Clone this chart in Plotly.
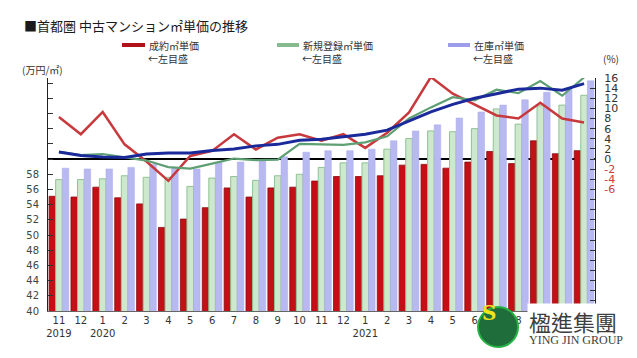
import plotly.graph_objects as go

months = ["2019-11", "2019-12", "2020-01", "2020-02", "2020-03", "2020-04", "2020-05",
          "2020-06", "2020-07", "2020-08", "2020-09", "2020-10", "2020-11", "2020-12",
          "2021-01", "2021-02", "2021-03", "2021-04", "2021-05", "2021-06", "2021-07",
          "2021-08", "2021-09", "2021-10", "2021-11"]
tick_labels = ["11<br>2019", "12", "1<br>2020", "2", "3", "4", "5", "6", "7", "8", "9", "10",
               "11", "12", "1<br>2021", "2", "3", "4", "5", "6", "7", "8", "9", "10", "11"]

# 万円/㎡ (left axis)
contract_price = [55.1, 55.0, 56.3, 54.9, 54.1, 51.0, 52.1, 53.6, 56.2, 55.0, 56.2, 56.3, 57.1,
                  57.7, 57.7, 57.8, 59.2, 59.3, 58.8, 59.6, 61.0, 59.4, 62.4, 60.7, 61.1]
new_listing_price = [57.3, 57.3, 57.4, 57.8, 57.6, 57.6, 56.4, 57.5, 57.7, 57.2, 57.8, 58.0, 58.9,
                     59.5, 59.5, 61.3, 62.7, 63.7, 63.6, 64.0, 66.6, 64.6, 67.0, 67.1, 68.4]
stock_price = [58.8, 58.7, 58.7, 58.9, 59.3, 58.8, 58.7, 59.6, 59.6, 59.8, 60.3, 60.9, 61.1,
               61.1, 61.3, 62.4, 63.7, 64.5, 65.4, 66.2, 67.1, 67.8, 68.8, 69.2, 70.3]

# 前年同月比 % (right axis)
contract_yoy = [8.3, 4.9, 9.3, 2.9, -0.5, -4.3, 0.6, 1.6, 4.9, 1.9, 4.2, 4.9, 3.6,
                4.9, 2.2, 5.2, 9.2, 16.2, 12.9, 10.8, 8.6, 8.0, 11.1, 8.0, 7.2]
new_listing_yoy = [1.4, 0.8, 1.0, 0.4, -0.3, -1.6, -1.9, -0.9, 0.1, -0.2, -0.1, 3.0, 2.9,
                   2.8, 3.3, 4.5, 8.0, 10.2, 12.2, 11.6, 13.7, 13.0, 15.4, 12.5, 16.1]
stock_yoy = [1.4, 0.7, 0.4, 0.3, 1.0, 1.2, 1.2, 1.7, 2.0, 2.6, 2.9, 3.7, 3.9,
             4.4, 4.9, 5.7, 7.5, 9.3, 10.8, 12.0, 12.9, 13.8, 14.0, 13.6, 14.9]

left_ticks = list(range(40, 71, 2))
right_ticks = list(range(-30, 17, 2))

JP = "Noto Sans CJK JP"

fig = go.Figure()
fig.add_trace(go.Bar(x=months, y=contract_price, name="成約㎡単価",
                     marker=dict(color="#c50f17", line=dict(color="#8c0a10", width=0.8))))
fig.add_trace(go.Bar(x=months, y=new_listing_price, name="新規登録㎡単価",
                     marker=dict(color="#cde8cd", line=dict(color="#8fc294", width=1))))
fig.add_trace(go.Bar(x=months, y=stock_price, name="在庫㎡単価",
                     marker=dict(color="#b9b9f1", line=dict(color="#a9a9ee", width=0.5))))

fig.add_trace(go.Scatter(x=months, y=contract_yoy, yaxis="y2", mode="lines",
                         line=dict(color="#c8393d", width=2.5)))
fig.add_trace(go.Scatter(x=months, y=new_listing_yoy, yaxis="y2", mode="lines",
                         line=dict(color="#5e9f74", width=2.2)))
fig.add_trace(go.Scatter(x=months, y=stock_yoy, yaxis="y2", mode="lines",
                         line=dict(color="#1b2a9b", width=3)))

# page body has an 8px margin; work in reference-pixel coordinates and offset
OFF = 8
W, H = 637 - OFF, 358 - OFF
L, R, T, B = 48, 595, 78, 311  # plot area in reference pixels


def px(X):
    return (X - L) / (R - L)


def py(Y):
    return (B - Y) / (B - T)


fig.update_layout(
    width=W, height=H,
    margin=dict(l=L - OFF, r=637 - R, t=T - OFF, b=358 - B, autoexpand=False),
    paper_bgcolor="white", plot_bgcolor="white",
    showlegend=False,
    barmode="group", bargap=0.1, bargroupgap=0.0,
    font=dict(family=JP, color="#333"),
    xaxis=dict(type="category", tickmode="array", tickvals=months, ticktext=tick_labels,
               showline=True, linecolor="#666", linewidth=1, ticks="",
               tickfont=dict(size=10, color="#333", family="DejaVu Sans"),
               showgrid=False, zeroline=False, automargin=False),
    yaxis=dict(range=[40, 70.67], tickmode="array", tickvals=left_ticks,
               ticktext=[str(v) if v <= 58 else "" for v in left_ticks],
               showline=True, linecolor="#222", linewidth=1, ticks="inside",
               ticklen=5, tickcolor="#333", ticklabelstandoff=6,
               tickfont=dict(size=10, color="#444", family="DejaVu Sans"),
               showgrid=False, zeroline=False, automargin=False),
    yaxis2=dict(range=[-30, 16], overlaying="y", side="right", tickmode="array",
                tickvals=right_ticks,
                ticktext=[(str(v) if v >= 0 else ('<span style="color:#d03a3a">' + str(v) + '</span>' if v >= -6 else ""))
                          for v in right_ticks],
                showline=True, linecolor="#222", linewidth=1, ticks="inside",
                ticklen=5, tickcolor="#333", ticklabelstandoff=6,
                tickfont=dict(size=11, color="#333", family="DejaVu Sans"),
                showgrid=False, zeroline=True, zerolinecolor="#000", zerolinewidth=2,
                automargin=False),
)

ann = []
shapes = []
ann.append(dict(x=px(22), y=py(25), xref="paper", yref="paper", xanchor="left", yanchor="middle",
                text="■首都圏 中古マンション㎡単価の推移", showarrow=False,
                font=dict(size=13, color="#1a1a1a", family=JP)))
ann.append(dict(x=px(20), y=py(70), xref="paper", yref="paper", xanchor="left", yanchor="middle",
                text="(万円/㎡)", showarrow=False, font=dict(size=10, color="#333", family=JP)))
ann.append(dict(x=px(601), y=py(59), xref="paper", yref="paper", xanchor="left", yanchor="middle",
                text="(%)", showarrow=False, font=dict(size=10, color="#333", family=JP)))

legend_items = [
    (122, 145, "#b3111a", "成約㎡単価"),
    (277, 299, "#86bb8f", "新規登録㎡単価"),
    (448, 470, "#9d9deb", "在庫㎡単価"),
]
for x0, x1, col, label in legend_items:
    shapes.append(dict(type="line", xref="paper", yref="paper", x0=px(x0), x1=px(x1),
                       y0=py(45), y1=py(45), line=dict(color=col, width=4)))
    ann.append(dict(x=px(x1 + 2), y=py(45), xref="paper", yref="paper", xanchor="left",
                    yanchor="middle", text=label, showarrow=False,
                    font=dict(size=10, color="#333", family=JP)))
    ann.append(dict(x=px(x1 + 1), y=py(58), xref="paper", yref="paper", xanchor="left",
                    yanchor="middle", text="←左目盛", showarrow=False,
                    font=dict(size=10, color="#333", family=JP)))

# watermark logo
shapes.append(dict(type="circle", xref="paper", yref="paper", x0=px(478), x1=px(518),
                   y0=py(347), y1=py(307), fillcolor="#1f6d3a",
                   line=dict(color="#27b244", width=2), layer="above"))
ann.append(dict(x=px(498), y=py(327), xref="paper", yref="paper", text="<b>S</b>",
                showarrow=False, font=dict(size=20, color="#f2e21c", family="DejaVu Serif")))
ann.append(dict(x=px(527), y=py(321), xref="paper", yref="paper", xanchor="left",
                yanchor="middle", text="楹進集團", showarrow=False, bgcolor="white",
                font=dict(size=22, color="#3d3d3d", family="Noto Sans CJK TC")))
ann.append(dict(x=px(527), y=py(340), xref="paper", yref="paper", xanchor="left",
                yanchor="middle", text="YING JIN GROUP", showarrow=False,
                font=dict(size=12, color="#3d3d3d", family="Liberation Serif")))

fig.update_layout(annotations=ann, shapes=shapes)
fig.write_html("out.html")
